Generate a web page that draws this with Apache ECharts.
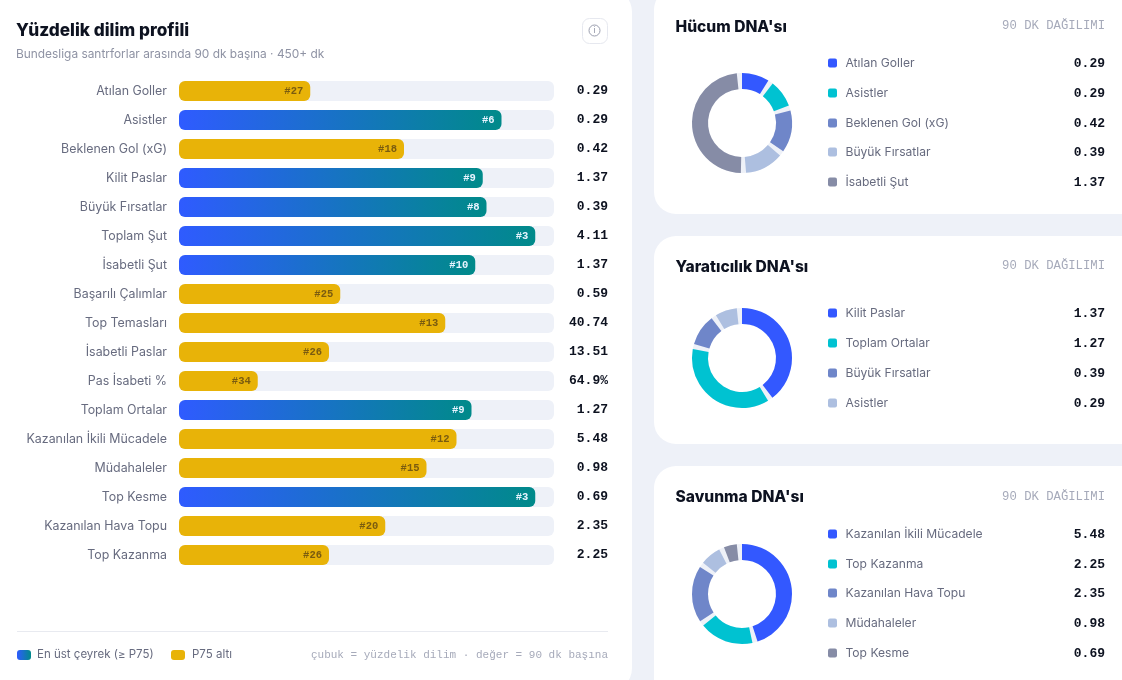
<!DOCTYPE html>
<html><head><meta charset="utf-8">
<style>html,body{margin:0;padding:0;background:#eef1f8;overflow:hidden}#c{width:1122px;height:680px}</style>
<script src="https://cdn.jsdelivr.net/npm/echarts@6/dist/echarts.min.js"></script>
</head><body><div id="c"></div>
<script>
const metricNames = ['Atılan Goller','Asistler','Beklenen Gol (xG)','Kilit Paslar','Büyük Fırsatlar','Toplam Şut','İsabetli Şut','Başarılı Çalımlar','Top Temasları','İsabetli Paslar','Pas İsabeti %','Toplam Ortalar','Kazanılan İkili Mücadele','Müdahaleler','Top Kesme','Kazanılan Hava Topu','Top Kazanma'];
const percentiles = [35,86,60,81,82,95,79,43,71,40,21,78,74,66,95,55,40];
const ranks = ['#27','#6','#18','#9','#8','#3','#10','#25','#13','#26','#34','#9','#12','#15','#3','#20','#26'];
const valueLabels = ['0.29','0.29','0.42','1.37','0.39','4.11','1.37','0.59','40.74','13.51','64.9%','1.27','5.48','0.98','0.69','2.35','2.25'];
const attackNames = ['Atılan Goller','Asistler','Beklenen Gol (xG)','Büyük Fırsatlar','İsabetli Şut'];
const attackValues = [0.29,0.29,0.42,0.39,1.37];
const creativeNames = ['Kilit Paslar','Toplam Ortalar','Büyük Fırsatlar','Asistler'];
const creativeValues = [1.37,1.27,0.39,0.29];
const defenceNames = ['Kazanılan İkili Mücadele','Top Kazanma','Kazanılan Hava Topu','Müdahaleler','Top Kesme'];
const defenceValues = [5.48,2.25,2.35,0.98,0.69];
const sliceColors = ['#3358ff','#00c2d1','#6f86c9','#adbfe0','#868ca6'];

const SANS='Inter, "Noto Sans", sans-serif', HEAD='Inter, sans-serif', MONO='"Liberation Mono", monospace';
const BG='#eef1f8', INK='#0d1220', MUTED='#676b7f', FAINT='#a6aaba';
const gradient=()=>new echarts.graphic.LinearGradient(0,0,1,0,[{offset:0,color:'#2f5bff'},{offset:1,color:'#008a8a'}]);
const P75=75;

const graphic=[];
function rect(x,y,w,h,r,fill,stroke){graphic.push({type:'rect',silent:true,z:-10,shape:{x,y,width:w,height:h,r},style:{fill,stroke:stroke||null,lineWidth:stroke?1:0}});}
function text(x,y,t,font,fill,align){graphic.push({type:'text',silent:true,x,y,style:{text:t,font,fill,align:align||'left',verticalAlign:'middle'}});}

rect(-30,-12,662,704,24,'#fff');
rect(654,-12,500,226,22,'#fff');
rect(654,236,500,208,22,'#fff');
rect(654,466,500,240,22,'#fff');

text(16,30.5,'Yüzdelik dilim profili','800 17.2px '+HEAD,INK);
text(16,54,'Bundesliga santrforlar arasında 90 dk başına · 450+ dk','400 11.9px '+SANS,'#8f93a4');
rect(582.5,18.5,25,25,7,'#fff','#e6e8ef');
graphic.push({type:'circle',silent:true,shape:{cx:594.5,cy:30.5,r:5.5},style:{fill:'none',stroke:'#9a9eae',lineWidth:1}});
text(594.5,31,'i','500 8px '+SANS,'#9a9eae','center');

graphic.push({type:'rect',silent:true,shape:{x:17,y:631,width:591,height:1},style:{fill:'#e8eaf0'}});
graphic.push({type:'rect',silent:true,shape:{x:17,y:650,width:14,height:10,r:3},style:{fill:gradient()}});
text(37,654.5,'En üst çeyrek (≥ P75)','400 11.5px '+SANS,MUTED);
graphic.push({type:'rect',silent:true,shape:{x:171,y:650,width:14,height:10,r:3},style:{fill:'#e8b308'}});
text(192,654.5,'P75 altı','400 11.5px '+SANS,MUTED);
text(608,655,'çubuk = yüzdelik dilim · değer = 90 dk başına','400 11px '+MONO,FAINT,'right');

const panels=[
 {title:"Hücum DNA'sı",ty:27,names:attackNames,vals:attackValues,cy:123,rows:[63,93,123,152,182],tagY:26},
 {title:"Yaratıcılık DNA'sı",ty:267,names:creativeNames,vals:creativeValues,cy:358,rows:[313,343,373,403],tagY:266},
 {title:"Savunma DNA'sı",ty:497,names:defenceNames,vals:defenceValues,cy:594,rows:[534,564,593,623,653],tagY:497}
];
const pies=[];
panels.forEach(p=>{
 text(675.5,p.ty,p.title,'800 15.6px '+HEAD,INK);
 text(1105,p.tagY,'90 DK DAĞILIMI','400 12.25px '+MONO,FAINT,'right');
 p.names.forEach((n,i)=>{
  graphic.push({type:'rect',silent:true,shape:{x:828,y:p.rows[i]-4.5,width:9,height:9,r:2},style:{fill:sliceColors[i]}});
  text(845.5,p.rows[i],n,'400 12.1px '+SANS,MUTED);
  text(1105,p.rows[i]+0.5,p.vals[i].toFixed(2),'700 13px '+MONO,INK,'right');
 });
 pies.push({type:'pie',silent:true,z:1,center:[742,p.cy],radius:[34,50],startAngle:90,label:{show:false},labelLine:{show:false},animation:false,data:[{value:1,itemStyle:{color:BG}}]});
 const pad=6;
 pies.push({type:'pie',silent:true,z:2,center:[742,p.cy],radius:[34,50],startAngle:90+pad/2,padAngle:pad,label:{show:false},labelLine:{show:false},animation:false,
  data:p.vals.map((v,i)=>({name:p.names[i],value:v,itemStyle:{color:sliceColors[i]}}))});
});

const chart=echarts.init(document.getElementById('c'),null,{renderer:'canvas'});
chart.setOption({
 animation:false,
 backgroundColor:BG,
 graphic:{elements:graphic},
 grid:{left:179,top:76.5,width:375,height:493,containLabel:false},
 xAxis:{type:'value',min:0,max:100,show:false},
 yAxis:[
  {type:'category',inverse:true,data:metricNames,axisLine:{show:false},axisTick:{show:false},
   axisLabel:{margin:12,color:MUTED,fontFamily:SANS,fontSize:12.4}},
  {type:'category',inverse:true,position:'right',data:valueLabels,axisLine:{show:false},axisTick:{show:false},
   axisLabel:{margin:54,align:'right',color:INK,fontFamily:MONO,fontSize:13,fontWeight:700,padding:[3,0,0,0]}}
 ],
 series:[{
  type:'bar',yAxisIndex:0,barWidth:20,z:3,
  showBackground:true,backgroundStyle:{color:BG,borderRadius:6},
  data:percentiles.map((v,i)=>({value:v,rank:ranks[i],
   itemStyle:{borderRadius:6,color:v>=P75?gradient():'#e8b308'},
   label:{color:v>=P75?'#e8f4ff':'#7a5c10'}})),
  label:{show:true,position:'insideRight',distance:7,fontFamily:MONO,fontSize:10.5,fontWeight:700,formatter:p=>p.data.rank}
 },...pies]
});
</script></body></html>
